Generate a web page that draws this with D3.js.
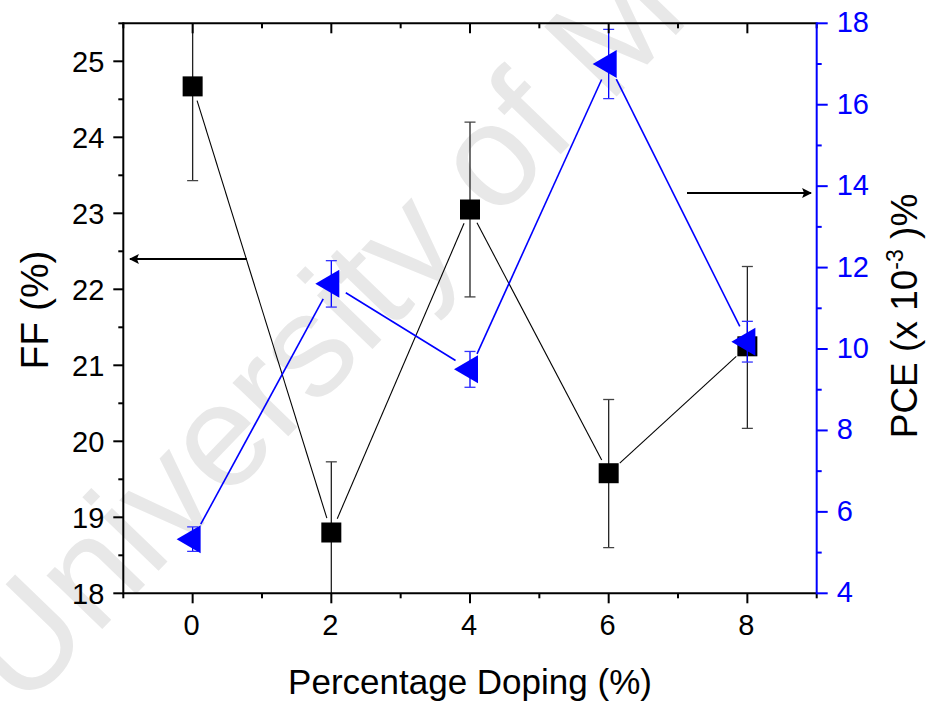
<!DOCTYPE html>
<html><head><meta charset="utf-8">
<script src="https://cdn.jsdelivr.net/npm/d3@7"></script>
<style>body{margin:0;background:#fff}svg{display:block}text{font-family:"Liberation Sans",Arial,sans-serif}</style>
</head><body>
<script>
const doping = [0, 2, 4, 6, 8];
const ffValues = [24.67, 18.80, 23.05, 19.58, 21.25];
const ffErrLow = [1.24, 0.93, 1.15, 0.98, 1.08];
const ffErrHigh = [1.24, 0.93, 1.15, 0.97, 1.05];
const pceValues = [5.33, 11.60, 9.50, 17.00, 10.18];
const pceErr = [0.30, 0.57, 0.44, 0.85, 0.50];
const xTicks = [0, 2, 4, 6, 8];
const ffTicks = [18, 19, 20, 21, 22, 23, 24, 25];
const pceTicks = [4, 6, 8, 10, 12, 14, 16, 18];

const W = 931, H = 705;
const L = 123.3, R = 816.7, T = 23.3, B = 593.3;
const svg = d3.select("body").append("svg").attr("width", W).attr("height", H);

const x = d3.scaleLinear().domain([-1, 9]).range([L, R]);
const yF = d3.scaleLinear().domain([18, 25.5]).range([B, T]);
const yP = d3.scaleLinear().domain([4, 18]).range([B, T]);

// watermark
svg.append("text").attr("transform", "translate(22,712) rotate(-46)")
  .attr("font-size", 146).attr("fill", "#e8e8e8").text("University of M");

svg.append("defs").append("clipPath").attr("id", "clip")
  .append("rect").attr("x", L).attr("y", T).attr("width", R - L).attr("height", B - T);
const plot = svg.append("g").attr("clip-path", "url(#clip)");

function gapLines(g, pts, gap, color, width) {
  for (let i = 0; i < pts.length - 1; i++) {
    const [x1, y1] = pts[i], [x2, y2] = pts[i + 1];
    const dx = x2 - x1, dy = y2 - y1, len = Math.hypot(dx, dy);
    const ux = dx / len, uy = dy / len;
    g.append("line").attr("x1", x1 + ux * gap).attr("y1", y1 + uy * gap)
      .attr("x2", x2 - ux * gap).attr("y2", y2 - uy * gap)
      .attr("stroke", color).attr("stroke-width", width);
  }
}

// FF series
const ffPts = doping.map((d, i) => [x(d), yF(ffValues[i])]);
doping.forEach((d, i) => {
  const cx = x(d), y1 = yF(ffValues[i] + ffErrHigh[i]), y2 = yF(ffValues[i] - ffErrLow[i]);
  plot.append("line").attr("x1", cx).attr("x2", cx).attr("y1", y1).attr("y2", y2).attr("stroke", "#222").attr("stroke-width", 1.3);
  [y1, y2].forEach(yy => plot.append("line").attr("x1", cx - 5.5).attr("x2", cx + 5.5).attr("y1", yy).attr("y2", yy).attr("stroke", "#444").attr("stroke-width", 1.3));
});
gapLines(plot, ffPts, 15, "#000", 1.1);
plot.selectAll(".sq").data(ffPts).join("rect").attr("x", p => p[0] - 10).attr("y", p => p[1] - 10)
  .attr("width", 20).attr("height", 20).attr("fill", "#000");

// PCE series
const pPts = doping.map((d, i) => [x(d), yP(pceValues[i])]);
doping.forEach((d, i) => {
  const cx = x(d), y1 = yP(pceValues[i] + pceErr[i]), y2 = yP(pceValues[i] - pceErr[i]);
  plot.append("line").attr("x1", cx).attr("x2", cx).attr("y1", y1).attr("y2", y2).attr("stroke", "#0000ff").attr("stroke-width", 1.3);
  [y1, y2].forEach(yy => plot.append("line").attr("x1", cx - 5.5).attr("x2", cx + 5.5).attr("y1", yy).attr("y2", yy).attr("stroke", "#3333ff").attr("stroke-width", 1.3));
});
gapLines(plot, pPts, 17, "#0000ff", 1.6);
plot.selectAll(".tri").data(pPts).join("path")
  .attr("d", p => `M${p[0] - 16},${p[1]} L${p[0] + 8},${p[1] - 14} L${p[0] + 8},${p[1] + 14} Z`)
  .attr("fill", "#0000ff");

// axes
const fs = 29;
const xMinor = [-1, 1, 3, 5, 7, 9];
const gx = svg.append("g");
gx.append("line").attr("x1", L).attr("x2", R).attr("y1", B).attr("y2", B).attr("stroke", "#000").attr("stroke-width", 2);
gx.append("line").attr("x1", L).attr("x2", R).attr("y1", T).attr("y2", T).attr("stroke", "#000").attr("stroke-width", 2);
xTicks.forEach(t => {
  gx.append("line").attr("x1", x(t)).attr("x2", x(t)).attr("y1", B).attr("y2", B + 10).attr("stroke", "#000").attr("stroke-width", 2);
  gx.append("line").attr("x1", x(t)).attr("x2", x(t)).attr("y1", T).attr("y2", T + 10).attr("stroke", "#000").attr("stroke-width", 2);
  gx.append("text").attr("x", x(t) - 1).attr("y", B + 42).attr("text-anchor", "middle").attr("font-size", fs).text(t);
});
xMinor.forEach(t => {
  gx.append("line").attr("x1", x(t)).attr("x2", x(t)).attr("y1", B).attr("y2", B + 5).attr("stroke", "#000").attr("stroke-width", 2);
  gx.append("line").attr("x1", x(t)).attr("x2", x(t)).attr("y1", T).attr("y2", T + 5).attr("stroke", "#000").attr("stroke-width", 2);
});

const gl = svg.append("g");
gl.append("line").attr("x1", L).attr("x2", L).attr("y1", T - 1).attr("y2", B + 1).attr("stroke", "#000").attr("stroke-width", 2);
ffTicks.forEach(t => {
  gl.append("line").attr("x1", L - 10).attr("x2", L).attr("y1", yF(t)).attr("y2", yF(t)).attr("stroke", "#000").attr("stroke-width", 2);
  gl.append("text").attr("x", L - 19).attr("y", yF(t) + 10.5).attr("text-anchor", "end").attr("font-size", fs).text(t);
});
d3.range(18.5, 25.6, 1).forEach(t => {
  gl.append("line").attr("x1", L - 5).attr("x2", L).attr("y1", yF(t)).attr("y2", yF(t)).attr("stroke", "#000").attr("stroke-width", 2);
});

const gr = svg.append("g");
gr.append("line").attr("x1", R).attr("x2", R).attr("y1", T - 1).attr("y2", B + 1).attr("stroke", "#0000ff").attr("stroke-width", 2);
pceTicks.forEach(t => {
  gr.append("line").attr("x1", R).attr("x2", R + 11).attr("y1", yP(t)).attr("y2", yP(t)).attr("stroke", "#0000ff").attr("stroke-width", 2);
  gr.append("text").attr("x", R + 20).attr("y", yP(t) + 9).attr("font-size", fs).attr("fill", "#0000ff").text(t);
});
d3.range(5, 18, 2).forEach(t => {
  gr.append("line").attr("x1", R).attr("x2", R + 5).attr("y1", yP(t)).attr("y2", yP(t)).attr("stroke", "#0000ff").attr("stroke-width", 2);
});

// arrows
const defs = svg.select("defs");
defs.append("marker").attr("id", "ah").attr("viewBox", "0 0 10 10").attr("refX", 9).attr("refY", 5)
  .attr("markerWidth", 8).attr("markerHeight", 4.5).attr("markerUnits", "strokeWidth").attr("orient", "auto")
  .append("path").attr("d", "M0,0 L10,5 L0,10 L2,5 Z").attr("fill", "#000");
svg.append("line").attr("x1", 247).attr("y1", 259).attr("x2", 130).attr("y2", 259)
  .attr("stroke", "#000").attr("stroke-width", 2.2).attr("marker-end", "url(#ah)");
svg.append("line").attr("x1", 687).attr("y1", 193).attr("x2", 811).attr("y2", 193)
  .attr("stroke", "#000").attr("stroke-width", 2.2).attr("marker-end", "url(#ah)");

// titles
svg.append("text").attr("x", 470).attr("y", 694).attr("text-anchor", "middle").attr("font-size", 35).text("Percentage Doping (%)");
svg.append("text").attr("transform", `translate(48,310) rotate(-90)`).attr("text-anchor", "middle").attr("font-size", 39).text("FF (%)");
const pt = svg.append("text").attr("transform", `translate(917,316) rotate(-90)`).attr("text-anchor", "middle").attr("font-size", 37);
pt.append("tspan").text("PCE (x 10");
pt.append("tspan").attr("dy", -14).attr("font-size", 23).text("-3");
pt.append("tspan").attr("dy", 14).text(" )%");
</script>
</body></html>
